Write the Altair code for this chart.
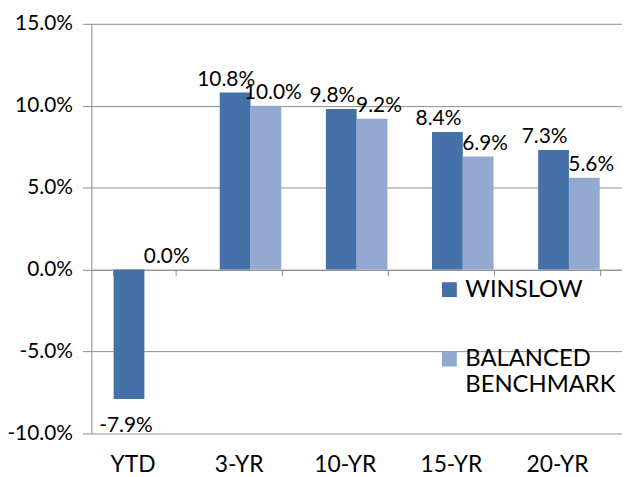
import altair as alt
import pandas as pd

categories = ["YTD", "3-YR", "10-YR", "15-YR", "20-YR"]
series = ["WINSLOW", "BALANCED BENCHMARK"]
winslow = [-7.9, 10.8, 9.8, 8.4, 7.3]
benchmark = [0.0, 10.0, 9.2, 6.9, 5.6]
y_ticks = [-0.10, -0.05, 0.0, 0.05, 0.10, 0.15]
colors = ["#4472A8", "#94A9D2"]

rows = []
for c, w, b in zip(categories, winslow, benchmark):
    rows.append({"cat": c, "series": series[0], "value": w / 100})
    rows.append({"cat": c, "series": series[1], "value": b / 100})
df = pd.DataFrame(rows)

FONT = "Lato"
GRAY = "#8c8c8c"

x_scale = alt.Scale(domain=categories, paddingInner=0.42, paddingOuter=0.21)
y_scale = alt.Scale(domain=[-0.10, 0.15], nice=False, zero=False)

x_enc = alt.X("cat:N", scale=x_scale, sort=categories,
              axis=alt.Axis(title=None, orient="bottom", offset=-165, labelAngle=0,
                            labelFontSize=23, labelFont=FONT, labelColor="#000000",
                            labelPadding=179, domain=True, domainColor=GRAY,
                            ticks=True, tickBand="extent", tickColor=GRAY, tickSize=6,
                            labelOffset=-12, labelBaseline="top"))
y_enc = alt.Y("value:Q", scale=y_scale,
              axis=alt.Axis(title=None, values=y_ticks, grid=True, gridColor=GRAY,
                            gridOpacity=1, domainColor=GRAY, tickColor=GRAY, tickSize=9,
                            labelFontSize=21, labelFont=FONT, labelColor="#000000",
                            labelPadding=10,
                            labelExpr="replace(format(datum.value, '.1%'), '\u2212', '-')"))
xoff = alt.XOffset("series:N", sort=series)
color = alt.Color("series:N", sort=series,
                  scale=alt.Scale(domain=series, range=colors),
                  legend=alt.Legend(title=None, orient="none", legendX=349, legendY=256,
                                    symbolType="square", symbolSize=225, symbolStrokeWidth=0,
                                    labelFontSize=24, labelFont=FONT, labelColor="#000000",
                                    labelLimit=300, rowPadding=46, symbolOffset=0,
                                    labelBaseline="middle",
                                    labelExpr="datum.label == 'BALANCED BENCHMARK' ? ['BALANCED', 'BENCHMARK'] : datum.label"))

base = alt.Chart(df).transform_calculate(
    label="replace(format(datum.value, '.1%'), '\u2212', '-')"
)

bars = base.mark_bar().encode(x=x_enc, xOffset=xoff, y=y_enc, color=color)


def label_layer(filt, baseline, dx, dy):
    return base.transform_filter(filt).mark_text(
        baseline=baseline, dx=dx, dy=dy, fontSize=21, font=FONT, color="#000000"
    ).encode(x=alt.X("cat:N", scale=x_scale, sort=categories), xOffset=xoff,
             y=alt.Y("value:Q", scale=y_scale), text="label:N")


w_pos = label_layer(f"datum.value >= 0 && datum.series == '{series[0]}'", "bottom", -9, -3)
b_pos = label_layer(f"datum.value >= 0 && datum.series == '{series[1]}'", "bottom", 7, -3)
neg = label_layer("datum.value < 0", "top", -3, 16)

chart = alt.layer(bars, w_pos, b_pos, neg).properties(
    width=535, height=413,
    autosize=alt.AutoSizeParams(type="none"),
    padding={"left": 84, "top": 14, "right": 0, "bottom": 46},
).configure_view(stroke=None)

chart.save("out.html", embed_options={"renderer": "svg", "actions": False})
